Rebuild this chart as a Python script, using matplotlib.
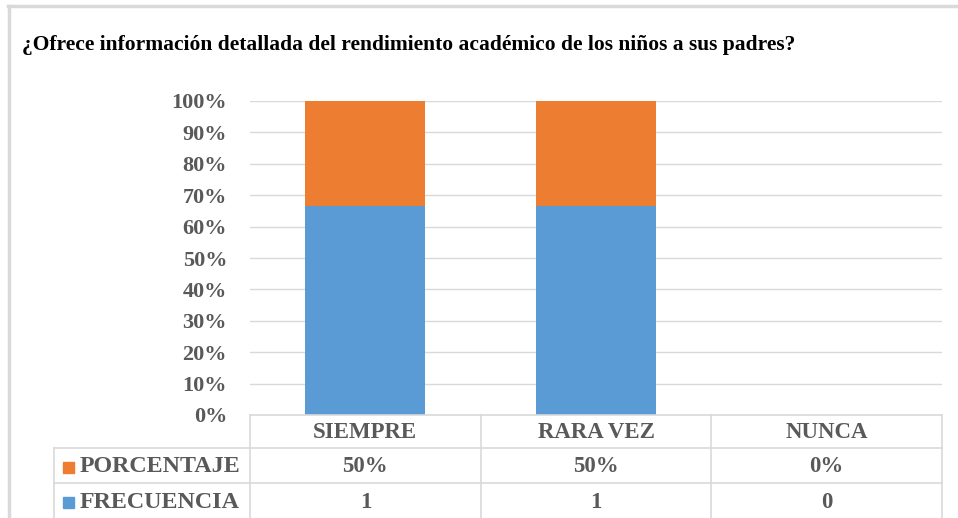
import matplotlib.pyplot as plt
import numpy as np
from matplotlib.lines import Line2D
from matplotlib.patches import Rectangle

title = "¿Ofrece información detallada del rendimiento académico de los niños a sus padres?"
categories = ["SIEMPRE", "RARA VEZ", "NUNCA"]
frecuencia = [1, 1, 0]
porcentaje = [0.5, 0.5, 0.0]
porcentaje_labels = ["50%", "50%", "0%"]
yticks = [0, 10, 20, 30, 40, 50, 60, 70, 80, 90, 100]

BLUE = "#5b9bd5"
ORANGE = "#ed7d31"
GRID = "#d9d9d9"
TXT = "#595959"
FONT = "Liberation Serif"

W, H = 958, 518


def fx(px):
    return px / W


def fy(py):
    return 1 - py / H


def main():
    fig = plt.figure(figsize=(9.58, 5.18), dpi=100)
    fig.patch.set_facecolor("white")

    # outer border (top and left visible)
    fig.add_artist(Line2D([fx(8), fx(958)], [fy(6), fy(6)], color=GRID, lw=2.5))
    fig.add_artist(Line2D([fx(9), fx(9)], [fy(6), fy(518)], color=GRID, lw=2.5))

    fig.text(fx(22), fy(45), title, fontsize=15.5, fontweight="bold",
             family=FONT, color="black", va="center", ha="left")

    left, right, top, bottom = 250, 942, 101, 415
    ax = fig.add_axes([fx(left), fy(bottom), fx(right - left), fy(top) - fy(bottom)])

    frec = np.array(frecuencia, dtype=float)
    pct = np.array(porcentaje, dtype=float)
    tot = frec + pct
    safe = np.where(tot > 0, tot, 1)
    blue_h = frec / safe * 100
    orange_h = pct / safe * 100

    x = np.arange(len(categories))
    width = 0.52
    ax.bar(x, blue_h, width, color=BLUE, zorder=3)
    ax.bar(x, orange_h, width, bottom=blue_h, color=ORANGE, zorder=3)

    ax.set_xlim(-0.5, len(categories) - 0.5)
    ax.set_ylim(0, 100)
    ax.set_yticks(yticks)
    ax.set_yticklabels([f"{v}%" for v in yticks], family=FONT, fontweight="bold",
                       fontsize=16, color=TXT)
    ax.tick_params(axis="y", length=0, pad=16.5)
    ax.set_xticks([])
    ax.grid(axis="y", color=GRID, lw=1, zorder=0)
    for s in ax.spines.values():
        s.set_visible(False)

    # data table
    col_edges = [left + i * (right - left) / 3 for i in range(4)]
    row_lines = [415, 448, 483]
    lkw = dict(color=GRID, lw=1.2)
    fig.add_artist(Line2D([fx(left), fx(right)], [fy(415), fy(415)], **lkw))
    for r in row_lines[1:]:
        fig.add_artist(Line2D([fx(54), fx(right)], [fy(r), fy(r)], **lkw))
    for c in col_edges:
        fig.add_artist(Line2D([fx(c), fx(c)], [fy(415), fy(518)], **lkw))
    fig.add_artist(Line2D([fx(54), fx(54)], [fy(448), fy(518)], **lkw))

    tkw = dict(family=FONT, fontweight="bold", fontsize=16.5, color=TXT,
               ha="center", va="center")
    centers = [(col_edges[i] + col_edges[i + 1]) / 2 for i in range(3)]
    for cx, cat, pl, fr in zip(centers, categories, porcentaje_labels, frecuencia):
        fig.text(fx(cx), fy(433), cat, **tkw)
        fig.text(fx(cx), fy(467), pl, **tkw)
        fig.text(fx(cx), fy(502), str(fr), **tkw)

    for yc, label, col in [(467, "PORCENTAJE", ORANGE), (502, "FRECUENCIA", BLUE)]:
        fig.add_artist(Rectangle((fx(63), fy(yc + 5.5)), fx(11), fy(yc - 5.5) - fy(yc + 5.5),
                                 color=col, transform=fig.transFigure))
        fig.text(fx(80), fy(yc), label, family=FONT, fontweight="bold", fontsize=17.3,
                 color=TXT, ha="left", va="center")

    fig.savefig("out.png", dpi=100, facecolor="white")


if __name__ == "__main__":
    main()
